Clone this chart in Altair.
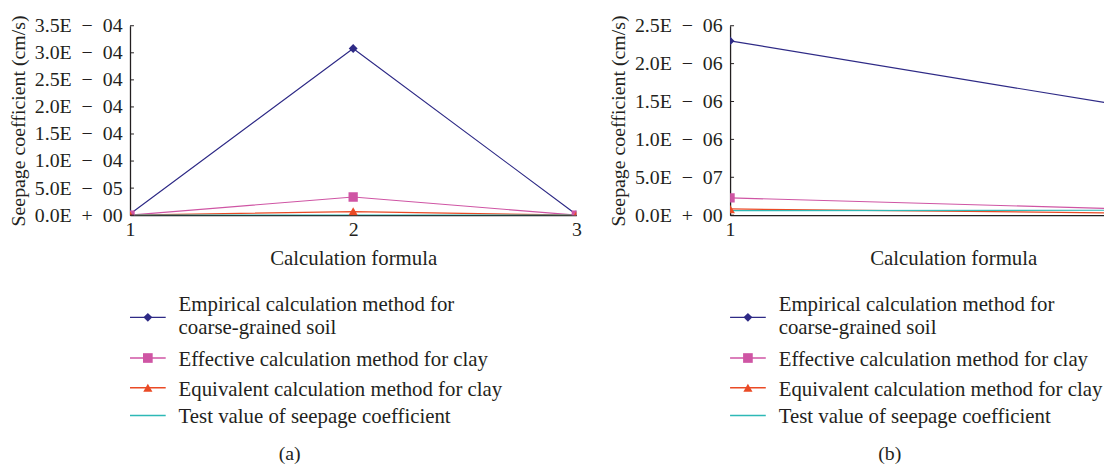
import altair as alt
import pandas as pd

# ---------------- data ----------------
SERIES = [
    "Empirical calculation method for coarse-grained soil",
    "Effective calculation method for clay",
    "Equivalent calculation method for clay",
    "Test value of seepage coefficient",
]
LEGEND_TEXT = [
    "Empirical calculation method for\ncoarse-grained soil",
    "Effective calculation method for clay",
    "Equivalent calculation method for clay",
    "Test value of seepage coefficient",
]

# panel (a): formulas 1-3
formula_a = [1, 2, 3]
empirical_a = [2.30e-6, 3.08e-4, 1.33e-6]
effective_a = [2.29e-7, 3.36e-5, 6.2e-8]
equivalent_a = [8.2e-8, 6.7e-6, 2.1e-8]
test_a = [6.0e-8, 6.3e-8, 6.6e-8]

# panel (b): formulas 1 and 3 (formula 2 left out)
formula_b = [1, 3]
empirical_b = [2.30e-6, 1.33e-6]
effective_b = [2.29e-7, 6.2e-8]
equivalent_b = [8.2e-8, 2.1e-8]
test_b = [6.0e-8, 6.6e-8]

ticks_a = [0, 5e-5, 1e-4, 1.5e-4, 2e-4, 2.5e-4, 3e-4, 3.5e-4]
tick_labels_a = ["0.0E + 00", "5.0E − 05", "1.0E − 04", "1.5E − 04",
                 "2.0E − 04", "2.5E − 04", "3.0E − 04", "3.5E − 04"]
ticks_b = [0, 5e-7, 1e-6, 1.5e-6, 2e-6, 2.5e-6]
tick_labels_b = ["0.0E + 00", "5.0E − 07", "1.0E − 06", "1.5E − 06",
                 "2.0E − 06", "2.5E − 06"]
x_ticks_a = [1, 2, 3]
x_tick_labels_a = ["1", "2", "3"]
x_ticks_b = [1]
x_tick_labels_b = ["1"]

# ---------------- style ----------------
FONT = "'Liberation Serif', 'Times New Roman', serif"
TXT = "#231F20"
LINE_COLORS = ["#2E2A86", "#CF55A4", "#EA4A25", "#2DB9B6"]
SHAPES = ["diamond", "square", "triangle-up"]
SIZES = [80, 95, 85]
W_A = 450
W_B = 377
H = 191
LEG_Y = [294, 335, 365, 393]
LEG_TEXT_Y = [282, 337, 367, 395]
CAPTION_Y = 432
FS_TICK = 20
FS_YTITLE = 20
FS = 21


def long_df(x, cols):
    rows = []
    for name, vals in zip(SERIES, cols):
        for xi, v in zip(x, vals):
            rows.append({"formula": xi, "value": v, "series": name})
    return pd.DataFrame(rows)


def label_expr(vals, labs, tol):
    # pick the label whose tick value is nearest
    conds = []
    for t, s in zip(vals, labs):
        conds.append("abs(datum.value - %r) < %r ? '%s' : " % (float(t), tol,
                                                             s.replace(" ", "\u2002")))
    return "".join(conds) + "''"


def axis_style(title_size):
    return dict(labelFont=FONT, titleFont=FONT, labelFontSize=FS_TICK, titleFontSize=title_size,
                labelColor=TXT, titleColor=TXT, titleFontWeight="normal",
                domainColor=TXT, domainWidth=1.3, labelOverlap=False, grid=False,
                ticks=False)


def panel(df, x_dom, x_vals, x_labs, y_dom, y_vals, y_labs, width, caption, title_x):
    color = alt.Color("series:N", scale=alt.Scale(domain=SERIES, range=LINE_COLORS), legend=None)
    x = alt.X(
        "formula:Q",
        scale=alt.Scale(domain=x_dom, nice=False, zero=False),
        axis=alt.Axis(values=x_vals, labelExpr=label_expr(x_vals, x_labs, 0.1),
                      title="Calculation formula", labelFlush=False, tickCount=len(x_vals),
                      labelPadding=4, titlePadding=9, titleX=title_x, **axis_style(FS)),
    )
    y_axis = alt.Axis(values=y_vals, labelExpr=label_expr(y_vals, y_labs, float(y_vals[1]) * 0.1),
                      title="Seepage coefficient (cm/s)", tickCount=len(y_vals),
                      labelPadding=8, titlePadding=6, labelFlush=False, **axis_style(FS_YTITLE))
    y = alt.Y("value:Q", scale=alt.Scale(domain=y_dom, nice=False), axis=y_axis)
    base = alt.Chart(df)
    lines = base.mark_line(strokeWidth=1.2, clip=True).encode(
        x=x, y=y, color=color, detail="series:N"
    )
    pts = base.transform_filter(
        alt.FieldOneOfPredicate(field="series", oneOf=SERIES[:3])
    ).mark_point(filled=True, opacity=1, clip=True).encode(
        x=x, y=y, color=color,
        shape=alt.Shape("series:N", scale=alt.Scale(domain=SERIES[:3], range=SHAPES), legend=None),
        size=alt.Size("series:N", scale=alt.Scale(domain=SERIES[:3], range=SIZES), legend=None),
    )
    tdf = pd.DataFrame({"value": y_vals})
    tick_marks = alt.Chart(tdf).mark_rule(color=TXT, strokeWidth=1).encode(
        y=y, x=alt.value(0), x2=alt.value(4)
    )
    layers = [lines, pts, tick_marks]
    # legend drawn below the plot
    for i, (name, text) in enumerate(zip(SERIES, LEGEND_TEXT)):
        ldf = pd.DataFrame({"series": [name], "label": [text]})
        lc = alt.Chart(ldf)
        layers.append(lc.mark_rule(color=LINE_COLORS[i], strokeWidth=1.4).encode(
            x=alt.value(0), x2=alt.value(36), y=alt.value(LEG_Y[i])))
        if i < 3:
            layers.append(lc.mark_point(shape=SHAPES[i], filled=True, opacity=1,
                                        color=LINE_COLORS[i], size=SIZES[i]).encode(
                x=alt.value(18), y=alt.value(LEG_Y[i])))
        layers.append(lc.mark_text(align="left", baseline="middle", font=FONT,
                                   fontSize=FS, color=TXT, lineBreak="\n",
                                   lineHeight=23).encode(
            text="label:N", x=alt.value(49), y=alt.value(LEG_TEXT_Y[i])))
    cdf = pd.DataFrame({"cap": [caption]})
    layers.append(alt.Chart(cdf).mark_text(align="center", baseline="middle", font=FONT,
                                           fontSize=FS_TICK, color=TXT).encode(
        text="cap:N", x=alt.value(161), y=alt.value(CAPTION_Y)))
    return alt.layer(*layers).properties(width=width, height=H)


df_a = long_df(formula_a, [empirical_a, effective_a, equivalent_a, test_a])
df_b = long_df(formula_b, [empirical_b, effective_b, equivalent_b, test_b])

pa = panel(df_a, [1, 3], x_ticks_a, x_tick_labels_a, [0, 3.5e-4], ticks_a, tick_labels_a,
           W_A, "(a)", W_A / 2)
pb = panel(df_b, [1, 1 + 2 * W_B / 450], x_ticks_b, x_tick_labels_b, [0, 2.5e-6], ticks_b,
           tick_labels_b, W_B, "(b)", 225)

chart = alt.hconcat(pa, pb, spacing=27).properties(
    padding={"left": 0, "top": 5, "right": 0, "bottom": 0},
    background="white",
).configure_view(stroke=None).configure_axis(labelOverlap=False)

chart.save("out.html", embed_options={"renderer": "svg", "actions": False})
